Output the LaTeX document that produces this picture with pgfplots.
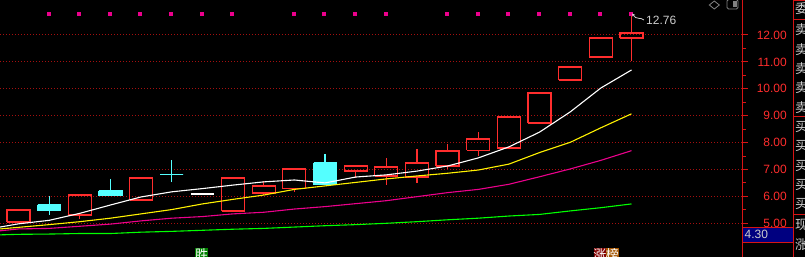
\documentclass[border=0pt]{standalone}
\usepackage{pgfplots}
\pgfplotsset{compat=1.18}
\usetikzlibrary{arrows.meta}
\usepackage{fontspec}
\setmainfont{Liberation Sans}
\newfontfamily\cjk{Noto Sans CJK SC}
\definecolor{upred}{RGB}{255,45,45}
\definecolor{axisred}{RGB}{215,20,20}
\definecolor{gridred}{RGB}{165,15,15}
\definecolor{dncyan}{RGB}{84,255,255}
\definecolor{labgray}{RGB}{205,205,205}
\definecolor{navybox}{RGB}{0,0,128}
\definecolor{shengreen}{RGB}{0,130,0}
\definecolor{zhangred}{RGB}{130,0,0}
\definecolor{bangbrown}{RGB}{165,85,0}
\tikzset{
  up/.style={draw=upred, line width=1.25pt},
  dn/.style={draw=dncyan, fill=dncyan, line width=1.25pt},
  flat/.style={draw=white, line width=1.25pt},
}
% \candle{index}{open}{high}{low}{close}{style}
\newcommand\candle[6]{%
  \pgfmathsetmacro\cxl{#1-0.375}%
  \pgfmathsetmacro\cxr{#1+0.375}%
  \pgfmathsetmacro\btop{max(#2,#5)}%
  \pgfmathsetmacro\bbot{min(#2,#5)}%
  \addplot[#6] coordinates {(\cxl,#2) (\cxr,#2) (\cxr,#5) (\cxl,#5) (\cxl,#2)};
  \addplot[#6] coordinates {(#1,\btop) (#1,#3)};
  \addplot[#6] coordinates {(#1,\bbot) (#1,#4)};
}
\begin{document}
\begin{tikzpicture}[x=1pt,y=1pt]
\useasboundingbox (0,0) rectangle (805,257);
\fill[black] (0,0) rectangle (805,257);
\begin{axis}[
  at={(0,0)}, anchor=south west, scale only axis,
  width=742.7pt, height=257pt,
  xmin=-0.6036, xmax=23.628, ymin=3.747, ymax=13.301,
  axis x line=none, axis y line*=right,
  axis line style={draw=axisred, line width=1pt, -},
  xtick=\empty,
  ytick={5,6,7,8,9,10,11,12},
  minor ytick={5.5,6.5,7.5,8.5,9.5,10.5,11.5},
  tick align=outside,
  major tick length=5.5pt, minor tick length=3pt,
  tick style={draw=axisred, line width=1pt},
  ymajorgrids,
  major grid style={draw=gridred, line width=1pt, dash pattern=on 1pt off 2pt},
  yticklabel style={font=\fontsize{12}{12}\selectfont, text=upred, anchor=east, inner sep=0pt, xshift=38.8pt,
    /pgf/number format/.cd, fixed, fixed zerofill, precision=2, assume math mode=true},
]
\candle{0}{5.05}{5.49}{5.05}{5.49}{up}
\candle{1}{5.68}{6.01}{5.31}{5.49}{dn}
\candle{2}{5.31}{6.05}{5.16}{6.05}{up}
\candle{3}{6.20}{6.65}{6.01}{6.05}{dn}
\candle{4}{5.87}{6.68}{5.87}{6.68}{up}
\candle{5}{6.80}{7.35}{6.53}{6.80}{dn}
\candle{6}{6.09}{6.09}{6.09}{6.09}{flat}
\candle{7}{5.46}{6.68}{5.46}{6.68}{up}
\candle{8}{6.13}{6.57}{6.05}{6.39}{up}
\candle{9}{6.28}{7.02}{6.16}{7.02}{up}
\candle{10}{7.24}{7.58}{6.46}{6.46}{dn}
\candle{11}{6.94}{7.13}{6.68}{7.13}{up}
\candle{12}{6.76}{7.43}{6.42}{7.09}{up}
\candle{13}{6.72}{7.76}{6.50}{7.24}{up}
\candle{14}{7.13}{7.95}{7.02}{7.69}{up}
\candle{15}{7.72}{8.39}{7.50}{8.13}{up}
\candle{16}{7.80}{8.95}{7.80}{8.95}{up}
\candle{17}{8.73}{9.84}{8.69}{9.84}{up}
\candle{18}{10.33}{10.81}{10.33}{10.81}{up}
\candle{19}{11.18}{11.89}{11.18}{11.89}{up}
\candle{20}{11.89}{12.76}{11.03}{12.07}{up}
% moving averages
\addplot[draw=green, line width=1.1pt] coordinates {(-0.6036,4.57) (0,4.59) (1,4.60) (2,4.62) (3,4.62) (4,4.67) (5,4.70) (6,4.74) (7,4.78) (8,4.81) (9,4.86) (10,4.91) (11,4.95) (12,5.00) (13,5.06) (14,5.13) (15,5.19) (16,5.27) (17,5.33) (18,5.46) (19,5.58) (20,5.72)};
\addplot[draw=magenta, line width=1.1pt] coordinates {(-0.6036,4.72) (0,4.79) (1,4.81) (2,4.89) (3,4.97) (4,5.09) (5,5.19) (6,5.25) (7,5.35) (8,5.41) (9,5.53) (10,5.62) (11,5.73) (12,5.84) (13,5.99) (14,6.14) (15,6.26) (16,6.45) (17,6.73) (18,7.02) (19,7.34) (20,7.70)};
\addplot[draw=yellow, line width=1.1pt] coordinates {(-0.6036,4.79) (0,4.85) (1,4.95) (2,5.06) (3,5.19) (4,5.35) (5,5.51) (6,5.72) (7,5.89) (8,6.05) (9,6.26) (10,6.39) (11,6.52) (12,6.65) (13,6.76) (14,6.86) (15,6.98) (16,7.20) (17,7.63) (18,8.01) (19,8.55) (20,9.07)};
\addplot[draw=white, line width=1.1pt] coordinates {(-0.6036,4.86) (0,4.98) (1,5.11) (2,5.37) (3,5.68) (4,5.98) (5,6.17) (6,6.29) (7,6.42) (8,6.54) (9,6.61) (10,6.50) (11,6.72) (12,6.80) (13,6.94) (14,7.13) (15,7.43) (16,7.84) (17,8.39) (18,9.14) (19,10.03) (20,10.70)};
% signal markers
\addplot[only marks, mark=square*, mark size=1.5pt, color=magenta] coordinates {(0.97,12.81) (1.97,12.81) (2.97,12.81) (3.97,12.81) (4.97,12.81) (5.97,12.81) (6.97,12.81) (8.97,12.81) (9.97,12.81) (10.97,12.81) (11.97,12.81) (13.97,12.81) (14.97,12.81) (15.97,12.81) (16.97,12.81) (17.97,12.81) (18.97,12.81) (19.97,12.81)};
\end{axis}
% high annotation
\draw[labgray, line width=0.8pt, {Stealth[length=3pt,width=3pt]}-] (632,243.5) -- (635.5,239.5) .. controls (637.5,237.5) and (640,240) .. (644,237);
\node[anchor=west, inner sep=0pt, text=labgray, font=\fontsize{12}{12}\selectfont] at (646,237) {12.76};
% top icons
\draw[gray, line width=0.8pt] (709.3,252) -- (714.3,256) -- (719.3,252) -- (714.3,248) -- cycle;
\draw[gray, line width=0.8pt, rounded corners=1.5pt] (727,248) rectangle (738,257.5);
\fill[gray] (732.5,249.5) rectangle (736.5,256);
% right panel
\draw[axisred, line width=1pt] (793.3,0) -- (793.3,257);
\foreach \yy in {256.3,237,140,43} {\draw[axisred, line width=1pt] (793.3,\yy) -- (805,\yy);}
\fill[navybox] (743.2,15) rectangle (793.3,30);
\draw[axisred, line width=1pt] (742.7,30) -- (793.3,30);
\draw[axisred, line width=1pt] (742.7,15) -- (793.3,15);
\node[anchor=west, inner sep=0pt, text=labgray, font=\fontsize{12}{12}\selectfont] at (744.5,22.5) {4.30};
\begin{scope}[every node/.style={anchor=west, inner sep=0pt, text=labgray, font=\cjk\fontsize{13}{13}\selectfont}]
\node at (795,248) {委};
\node at (795,227.3) {卖};
\node at (795,207.9) {卖};
\node at (795,188.5) {卖};
\node at (795,169.1) {卖};
\node at (795,149.7) {卖};
\node at (795,130.3) {买};
\node at (795,110.9) {买};
\node at (795,91.5) {买};
\node at (795,72.1) {买};
\node at (795,52.7) {买};
\node at (795,32) {现};
\node at (795,12) {涨};
\end{scope}
% bottom event markers
\fill[shengreen] (195,0) rectangle (208,9);
\fill[zhangred] (594,0) rectangle (605.7,9);
\fill[bangbrown] (605.7,0) rectangle (619,9);
\begin{scope}[every node/.style={anchor=north, inner sep=0pt, text=white, font=\cjk\fontsize{13}{13}\selectfont}]
\node at (201.5,8.5) {胜};
\node at (599.8,8.5) {涨};
\node at (612.3,8.5) {榜};
\end{scope}
\end{tikzpicture}
\end{document}
